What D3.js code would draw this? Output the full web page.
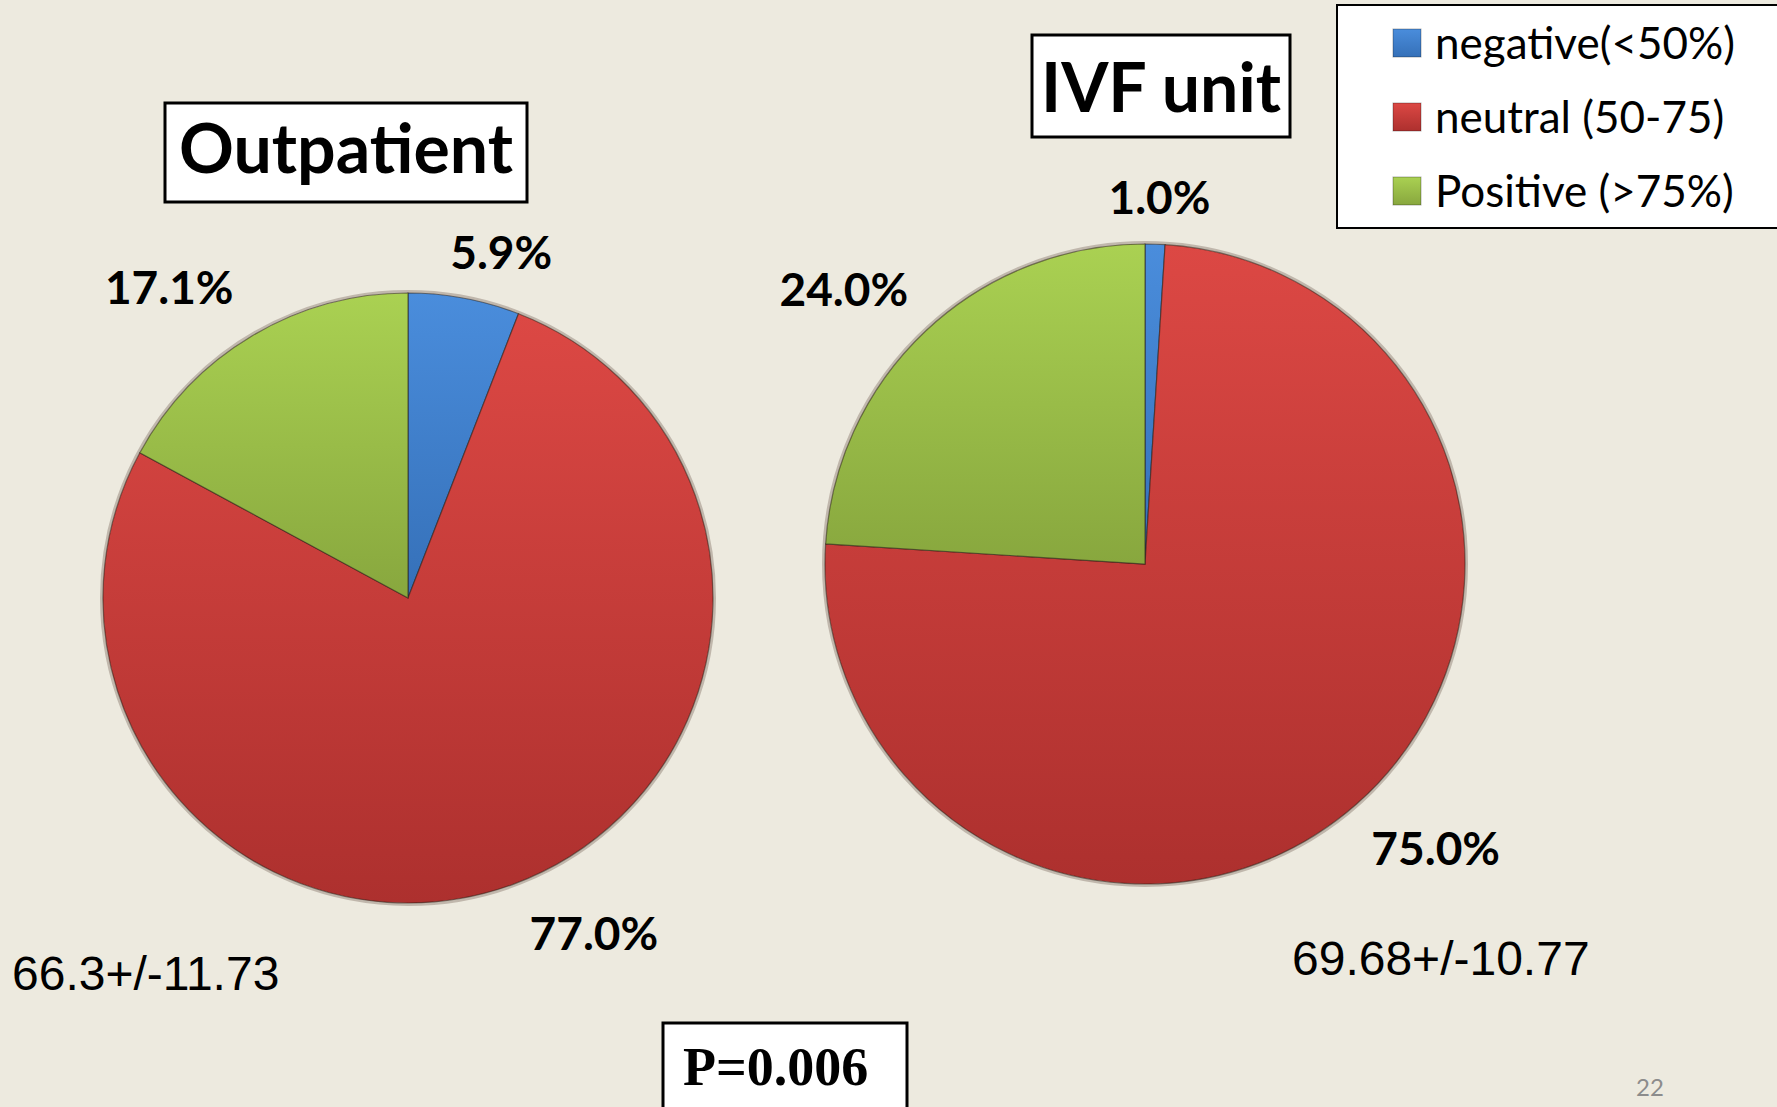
<meta charset="utf-8">
<head>
<style>
  body { margin: 0; background: #edeadf; }
  svg { display: block; }
</style>
</head>
<body>
<div id="chartId"></div>
</body>
<script src="https://cdn.jsdelivr.net/npm/d3@7"></script>
<script>

// data
var categories = ["negative(<50%)", "neutral (50-75)", "Positive (>75%)"];
var outpatientValues = [5.9, 77.0, 17.1];
var ivfValues = [1.0, 75.0, 24.0];
var panelTitles = ["Outpatient", "IVF unit"];
var statLabels = ["66.3+/-11.73", "69.68+/-10.77"];
var pValueLabel = "P=0.006";
var slideNumber = "22";

var width = 1777, height = 1107;

var colors = [
	{ top: "#4a8ddc", bottom: "#3570b8" },
	{ top: "#dc4844", bottom: "#ad302e" },
	{ top: "#aad152", bottom: "#88a73e" }
];

// layout
var panels = [
	{ values: outpatientValues, cx: 408, cy: 598, r: 305,
	  title: panelTitles[0], box: [165, 103, 362, 99], titleY: 173,
	  stat: statLabels[0], statX: 12, statY: 990,
	  nudge: [[23, -4], [50, 9], [-37, -12]] },
	{ values: ivfValues, cx: 1145, cy: 564, r: 320,
	  title: panelTitles[1], box: [1032, 35, 258, 102], titleY: 112,
	  stat: statLabels[1], statX: 1292, statY: 975,
	  nudge: [[2, -4], [20, 12], [-21, -10]] }
];

var svg = d3.select("#chartId").append("svg")
	.attr("width", width)
	.attr("height", height);

svg.append("rect")
	.attr("width", width)
	.attr("height", height)
	.attr("fill", "#edeadf");

var defs = svg.append("defs");
colors.forEach(function(c, i) {
	var g = defs.append("linearGradient")
		.attr("id", "grad" + i)
		.attr("x1", 0).attr("y1", 0).attr("x2", 0).attr("y2", 1);
	g.append("stop").attr("offset", "0%").attr("stop-color", c.top);
	g.append("stop").attr("offset", "100%").attr("stop-color", c.bottom);
});

var pie = d3.pie().sort(null).value(function(d) { return d; });

panels.forEach(function(p, pi) {
	var arc = d3.arc().innerRadius(0).outerRadius(p.r);
	var labelArc = d3.arc().innerRadius(p.r + 25).outerRadius(p.r + 25);
	var arcs = pie(p.values);

	var g = svg.append("g")
		.attr("transform", "translate(" + p.cx + "," + p.cy + ")");

	// soft edge shadow
	g.append("circle")
		.attr("r", p.r + 1.5)
		.attr("fill", "none")
		.attr("stroke", "rgba(60,30,20,0.25)")
		.attr("stroke-width", 3);

	arcs.forEach(function(a, i) {
		var clipId = "clip" + pi + "_" + i;
		defs.append("clipPath").attr("id", clipId)
			.append("path").attr("d", arc(a))
			.attr("transform", "translate(" + p.cx + "," + p.cy + ")");
	});

	g.selectAll("path.slice")
		.data(arcs)
		.enter()
		.append("path")
		.attr("class", "slice")
		.attr("d", arc)
		.attr("fill", function(d, i) { return "url(#grad" + i + ")"; })
		.attr("stroke", "rgba(40,30,20,0.55)")
		.attr("stroke-width", 1.2);

	// bevel highlight inside each slice
	svg.append("g").selectAll("path.bevel")
		.data(arcs)
		.enter()
		.append("path")
		.attr("class", "bevel")
		.attr("transform", "translate(" + p.cx + "," + p.cy + ")")
		.attr("d", arc)
		.attr("clip-path", function(d, i) { return "url(#clip" + pi + "_" + i + ")"; })
		.attr("fill", "none")
		.attr("stroke", "rgba(255,255,255,0.18)")
		.attr("stroke-width", 8);

	// data labels
	g.selectAll("text.pct")
		.data(arcs)
		.enter()
		.append("text")
		.attr("class", "pct")
		.attr("text-anchor", "middle")
		.attr("dy", "0.36em")
		.style("font-family", "Lato, 'Open Sans', sans-serif")
		.style("font-weight", "bold")
		.style("font-size", "46px")
		.attr("fill", "#000")
		.text(function(d) { return d.value.toFixed(1) + "%"; })
		.attr("x", function(d, i) {
			var c = labelArc.centroid(d);
			var a = (d.startAngle + d.endAngle) / 2;
			var w = this.getComputedTextLength();
			return c[0] + Math.sin(a) * w / 2 + p.nudge[i][0];
		})
		.attr("y", function(d, i) {
			var c = labelArc.centroid(d);
			var a = (d.startAngle + d.endAngle) / 2;
			return c[1] - Math.cos(a) * 18 + p.nudge[i][1];
		});

	// title box
	svg.append("rect")
		.attr("x", p.box[0]).attr("y", p.box[1])
		.attr("width", p.box[2]).attr("height", p.box[3])
		.attr("fill", "#fff")
		.attr("stroke", "#000")
		.attr("stroke-width", 3);
	svg.append("text")
		.attr("x", p.box[0] + p.box[2] / 2)
		.attr("y", p.titleY)
		.attr("text-anchor", "middle")
		.style("font-family", "Lato, 'Open Sans', sans-serif")
		.style("font-weight", "bold")
		.style("font-size", "68px")
		.text(p.title);

	// mean +/- sd
	svg.append("text")
		.attr("x", p.statX)
		.attr("y", p.statY)
		.style("font-family", "'Liberation Sans', Arial, sans-serif")
		.style("font-size", "48px")
		.text(p.stat);
});

// legend
var legend = svg.append("g");
legend.append("rect")
	.attr("x", 1337).attr("y", 5)
	.attr("width", 460).attr("height", 223)
	.attr("fill", "#fff")
	.attr("stroke", "#000")
	.attr("stroke-width", 2);

var rowY = d3.scalePoint().domain(categories).range([43, 191]);

var items = legend.selectAll("g.item")
	.data(categories)
	.enter()
	.append("g")
	.attr("class", "item")
	.attr("transform", function(d) { return "translate(1393," + rowY(d) + ")"; });

items.append("rect")
	.attr("x", 0).attr("y", -14)
	.attr("width", 28).attr("height", 28)
	.attr("fill", function(d, i) { return "url(#grad" + i + ")"; })
	.attr("stroke", "rgba(0,0,0,0.3)")
	.attr("stroke-width", 1);

items.append("text")
	.attr("x", 42)
	.attr("dy", "0.36em")
	.style("font-family", "Lato, 'Open Sans', sans-serif")
	.style("font-size", "44px")
	.text(function(d) { return d; });

// p value box
svg.append("rect")
	.attr("x", 663).attr("y", 1023)
	.attr("width", 244).attr("height", 110)
	.attr("fill", "#fff")
	.attr("stroke", "#000")
	.attr("stroke-width", 3);
svg.append("text")
	.attr("x", 683).attr("y", 1085)
	.style("font-family", "'Liberation Serif', 'Times New Roman', serif")
	.style("font-weight", "bold")
	.style("font-size", "54px")
	.text(pValueLabel);

// slide number
svg.append("text")
	.attr("x", 1636).attr("y", 1096)
	.style("font-family", "Lato, sans-serif")
	.style("font-size", "24px")
	.attr("fill", "#8c8c8c")
	.text(slideNumber);

</script>
